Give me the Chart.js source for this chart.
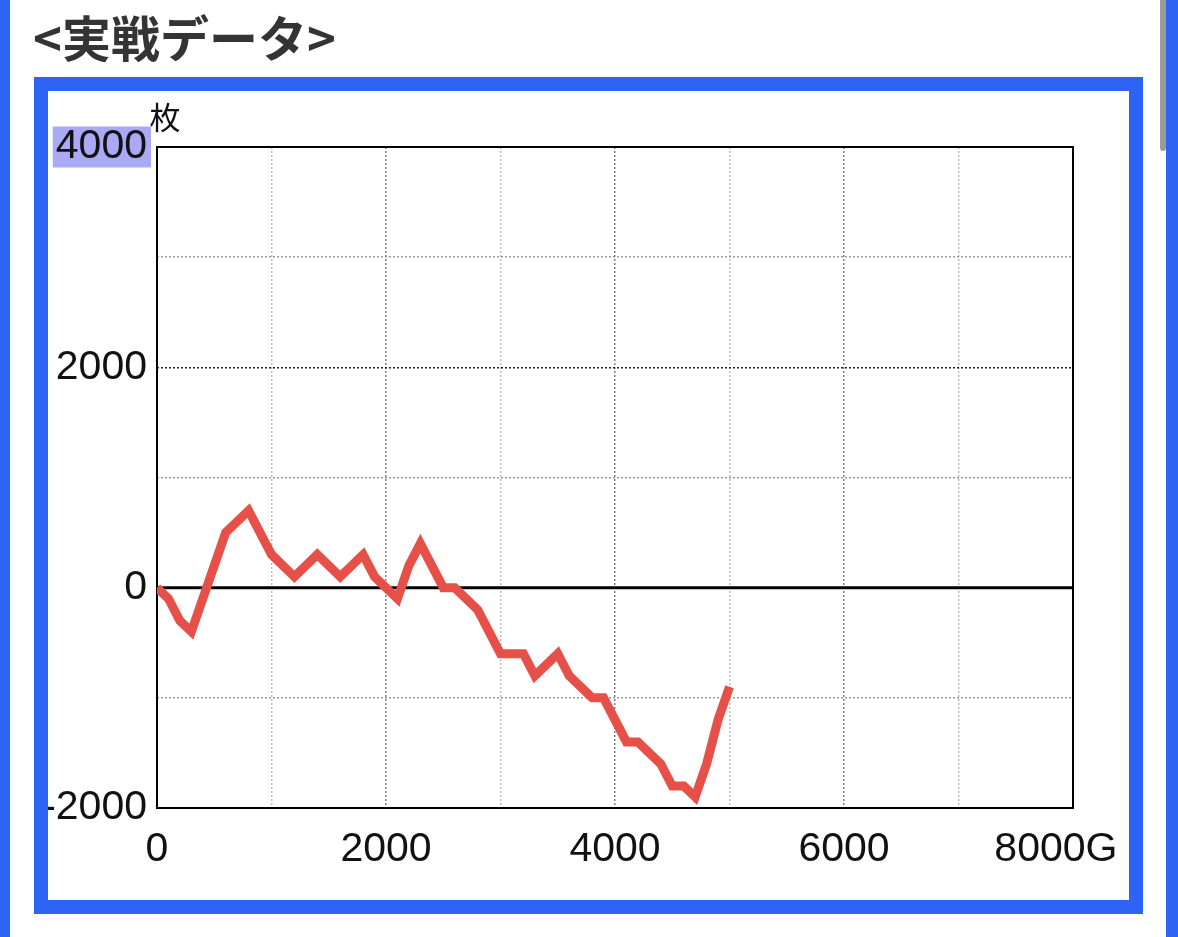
<!DOCTYPE html>
<html>
<head>
<meta charset="utf-8">
<script src="https://cdn.jsdelivr.net/npm/chart.js@4"></script>
<style>
  body { margin: 0; width: 1178px; height: 937px; background: #fff; position: relative; overflow: hidden; }
  /* page edge stripes and scroll bar */
  .edge-left { position: absolute; left: 0; top: 0; width: 10px; height: 937px; background: #2e64f4; }
  .edge-right { position: absolute; left: 1166px; top: 0; width: 12px; height: 937px; background: #2e64f4; }
  .scroll { position: absolute; left: 1160px; top: 0; width: 6px; height: 151px; background: #9a9a9a; border-radius: 0 0 3px 3px; }
  h2 { position: absolute; left: 33px; top: 12px; margin: 0; font: bold 49px/48px "Noto Sans CJK JP", sans-serif; color: #343434; }
  .box { position: absolute; left: 34px; top: 77px; width: 1109px; height: 837px; box-sizing: border-box; border: 14px solid #2e64f4; background: #fff; }
  #wrap { position: absolute; left: 48px; top: 91px; width: 1130px; height: 809px; }
</style>
</head>
<body>
<div class="edge-left"></div>
<div class="scroll"></div>
<div class="edge-right"></div>
<h2>&lt;実戦データ&gt;</h2>
<div class="box"></div>
<div id="wrap"><canvas id="myChart"></canvas></div>
<script>
'use strict';

// games played (x) and coin difference (y)
const games = [0, 100, 200, 300, 600, 800, 1000, 1200, 1400, 1600, 1800, 1900, 2000, 2100, 2200, 2300,
  2500, 2600, 2800, 3000, 3200, 3300, 3500, 3600, 3800, 3900, 4100, 4200, 4400, 4500, 4600, 4700,
  4800, 4900, 5000];
const coins = [0, -100, -300, -400, 500, 700, 300, 100, 300, 100, 300, 100, 0, -100, 200, 400,
  0, 0, -200, -600, -600, -800, -600, -800, -1000, -1000, -1400, -1400, -1600, -1800, -1800, -1900,
  -1600, -1200, -900];
// axis ticks
const xTicks = [0, 2000, 4000, 6000, 8000];
const yTicks = [-2000, 0, 2000, 4000];
const xUnit = 'G';
const yUnit = '枚';

const tickFont = { family: '"Liberation Sans", Arial, sans-serif', size: 41 };

// frame around plot + solid zero line + unit label
const framePlugin = {
  id: 'frame',
  beforeDatasetsDraw(chart) {
    const { ctx, chartArea: a, scales } = chart;
    const zeroY = scales.y.getPixelForValue(0);
    ctx.save();
    ctx.strokeStyle = '#000';
    ctx.lineWidth = 3;
    ctx.beginPath();
    ctx.moveTo(a.left, zeroY);
    ctx.lineTo(a.right, zeroY);
    ctx.stroke();
    ctx.lineWidth = 2;
    ctx.strokeRect(a.left, a.top, a.right - a.left, a.bottom - a.top);
    ctx.restore();
  },
  afterDraw(chart) {
    const { ctx, chartArea: a } = chart;
    ctx.save();
    ctx.font = '31px "Noto Sans CJK JP", sans-serif';
    ctx.fillStyle = '#111';
    ctx.textAlign = 'center';
    ctx.textBaseline = 'middle';
    ctx.fillText(yUnit, a.left + 8, a.top - 30);
    ctx.restore();
  }
};

const chartData = {
  datasets: [{
    data: games.map((g, i) => ({ x: g, y: coins[i] })),
    borderColor: 'rgb(230, 80, 72)',
    borderWidth: 9,
    pointRadius: 0,
    tension: 0,
    fill: false
  }]
};

const config = {
  type: 'line',
  data: chartData,
  options: {
    responsive: true,
    maintainAspectRatio: false,
    animation: false,
    layout: { padding: { top: 56, right: 105, left: 0, bottom: 0 } },
    plugins: { legend: { display: false }, tooltip: { enabled: false } },
    scales: {
      x: {
        type: 'linear',
        min: 0,
        max: 8000,
        afterFit: (scale) => { scale.height = 92; },
        border: { display: false, dash: [2, 2] },
        grid: {
          drawTicks: false,
          lineWidth: 1.5,
          color: (c) => (c.tick.value % 2000 === 0 ? '#808080' : '#bdbdbd')
        },
        ticks: {
          stepSize: 1000,
          autoSkip: false,
          maxRotation: 0,
          padding: 17,
          color: '#111',
          font: tickFont,
          callback: (v) => {
            if (!xTicks.includes(v)) return '';
            return v === 8000 ? v + xUnit + '   ' : String(v);
          }
        }
      },
      y: {
        min: -2000,
        max: 4000,
        afterFit: (scale) => { scale.width = 109; },
        border: { display: false, dash: [2, 2] },
        grid: {
          drawTicks: false,
          lineWidth: 1.5,
          color: (c) => {
            if (c.tick.value === 0) return 'rgba(0,0,0,0)';
            return c.tick.value === 2000 ? '#222' : '#9a9a9a';
          }
        },
        ticks: {
          stepSize: 1000,
          autoSkip: false,
          padding: 10,
          color: '#111',
          font: { family: tickFont.family, size: 41, lineHeight: 1 },
          showLabelBackdrop: (c) => c.tick.value === 4000,
          backdropColor: '#a9a9f5',
          backdropPadding: { top: 0, bottom: 0, left: 3, right: 4 },
          callback: (v) => (yTicks.includes(v) ? String(v) : '')
        }
      }
    }
  },
  plugins: [framePlugin]
};

const myChart = new Chart(document.getElementById('myChart'), config);
</script>
</body>
</html>
